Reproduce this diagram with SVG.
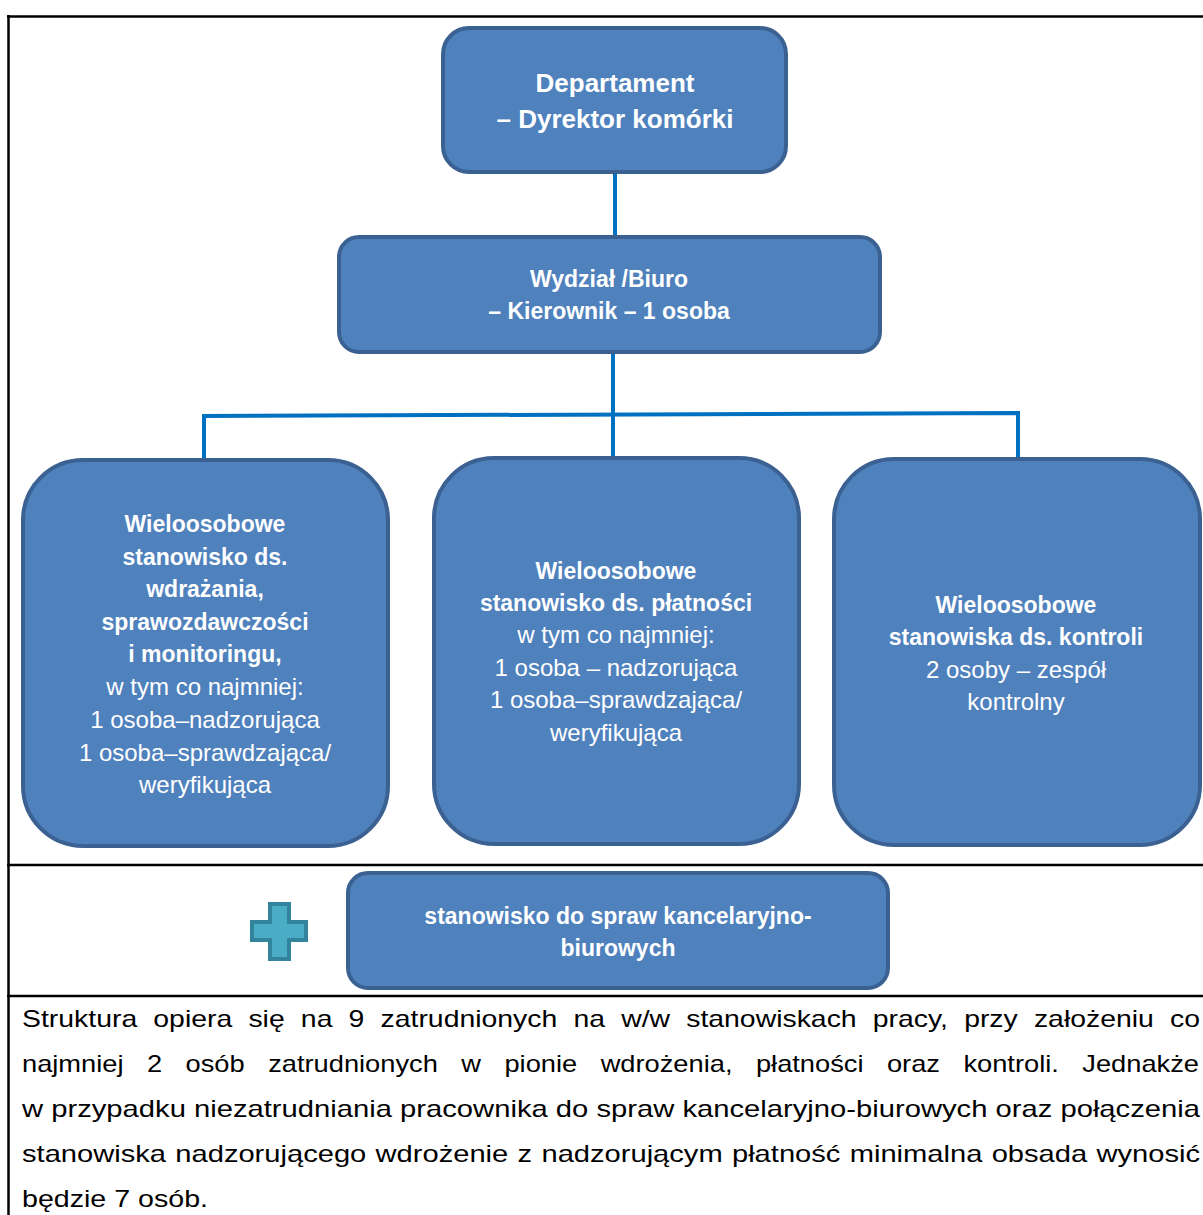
<svg xmlns="http://www.w3.org/2000/svg" width="1203" height="1215" viewBox="0 0 1203 1215">
<style>
.box{fill:#4f81bd;stroke:#3b6192;stroke-width:4}
.t{font-family:"Liberation Sans",Arial,sans-serif;fill:#ffffff;text-anchor:middle;font-size:24px}
.b{font-weight:bold;font-size:23px}
.conn{fill:none;stroke:#0070c0;stroke-width:4}
.rule{stroke:#000000;stroke-width:2.5;fill:none}
.body{font-family:"Liberation Sans",Arial,sans-serif;font-size:24px;fill:#000000}
.plus{fill:#4bacc6;stroke:#31849b;stroke-width:4;stroke-linejoin:miter}
</style>
<rect x="0" y="0" width="1203" height="1215" fill="#ffffff"/>

<g id="table">
  <line class="rule" x1="7" y1="16.5" x2="1203" y2="16.5"/>
  <line class="rule" x1="8.5" y1="15" x2="8.5" y2="1215"/>
  <line class="rule" x1="7" y1="865" x2="1203" y2="865"/>
  <line class="rule" x1="7" y1="996" x2="1203" y2="996"/>
</g>

<g id="connectors">
  <line class="conn" x1="615" y1="171" x2="615" y2="239"/>
  <line class="conn" x1="613" y1="350" x2="613" y2="459"/>
  <polyline class="conn" points="204,462 204,416 1018,413 1018,460"/>
</g>

<g id="node-departament">
  <rect class="box" x="443" y="28" width="343" height="144" rx="26"/>
  <text class="t b" x="615" y="92" style="font-size:26px">Departament</text>
  <text class="t b" x="615" y="128" style="font-size:26px">– Dyrektor komórki</text>
</g>

<g id="node-wydzial">
  <rect class="box" x="339" y="237" width="541" height="115" rx="20"/>
  <text class="t b" x="609" y="287">Wydział /Biuro</text>
  <text class="t b" x="609" y="319">– Kierownik – 1 osoba</text>
</g>

<g id="node-wdrazanie">
  <rect class="box" x="23" y="460" width="365" height="386" rx="60"/>
  <text class="t b" x="205" y="532">Wieloosobowe</text>
  <text class="t b" x="205" y="565">stanowisko ds.</text>
  <text class="t b" x="205" y="597">wdrażania,</text>
  <text class="t b" x="205" y="630">sprawozdawczości</text>
  <text class="t b" x="205" y="662">i monitoringu,</text>
  <text class="t" x="205" y="695">w tym co najmniej:</text>
  <text class="t" x="205" y="728">1 osoba–nadzorująca</text>
  <text class="t" x="205" y="761">1 osoba–sprawdzająca/</text>
  <text class="t" x="205" y="793">weryfikująca</text>
</g>

<g id="node-platnosci">
  <rect class="box" x="434" y="458" width="365" height="386" rx="60"/>
  <text class="t b" x="616" y="579">Wieloosobowe</text>
  <text class="t b" x="616" y="611">stanowisko ds. płatności</text>
  <text class="t" x="616" y="643">w tym co najmniej:</text>
  <text class="t" x="616" y="676">1 osoba – nadzorująca</text>
  <text class="t" x="616" y="708">1 osoba–sprawdzająca/</text>
  <text class="t" x="616" y="741">weryfikująca</text>
</g>

<g id="node-kontrola">
  <rect class="box" x="834" y="459" width="366" height="386" rx="60"/>
  <text class="t b" x="1016" y="613">Wieloosobowe</text>
  <text class="t b" x="1016" y="645">stanowiska ds. kontroli</text>
  <text class="t" x="1016" y="678">2 osoby – zespół</text>
  <text class="t" x="1016" y="710">kontrolny</text>
</g>

<g id="plus-icon">
  <polygon class="plus" points="270,904 289,904 289,922 306,922 306,940 289,940 289,959 270,959 270,940 252,940 252,922 270,922"/>
</g>

<g id="node-kancelaria">
  <rect class="box" x="348" y="873" width="540" height="115" rx="20"/>
  <text class="t b" x="618" y="924">stanowisko do spraw kancelaryjno-</text>
  <text class="t b" x="618" y="956">biurowych</text>
</g>

<g id="description">
  <text class="body" x="22" y="1027" textLength="1178" lengthAdjust="spacingAndGlyphs" style="word-spacing:7px">Struktura opiera się na 9 zatrudnionych na w/w stanowiskach pracy, przy założeniu co</text>
  <text class="body" x="22" y="1072" textLength="1177" lengthAdjust="spacingAndGlyphs" style="word-spacing:14px">najmniej 2 osób zatrudnionych w pionie wdrożenia, płatności oraz kontroli. Jednakże</text>
  <text class="body" x="22" y="1117" textLength="1178" lengthAdjust="spacingAndGlyphs">w przypadku niezatrudniania pracownika do spraw kancelaryjno-biurowych oraz połączenia</text>
  <text class="body" x="22" y="1162" textLength="1178" lengthAdjust="spacingAndGlyphs" style="word-spacing:1px">stanowiska nadzorującego wdrożenie z nadzorującym płatność minimalna obsada wynosić</text>
  <text class="body" x="22" y="1207" textLength="186" lengthAdjust="spacingAndGlyphs">będzie 7 osób.</text>
</g>
</svg>
